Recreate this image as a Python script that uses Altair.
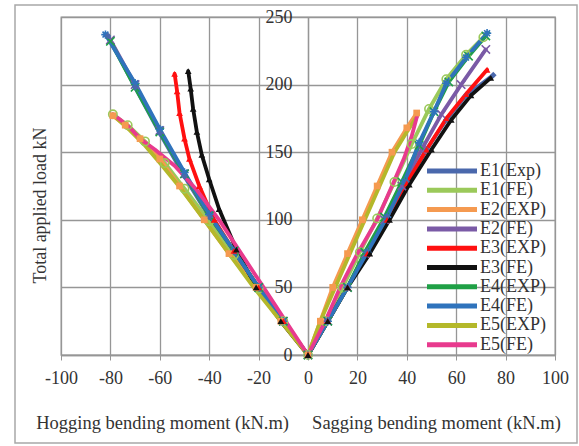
import altair as alt
import pandas as pd

series = ["E1(Exp)", "E1(FE)", "E2(EXP)", "E2(FE)", "E3(EXP)",
          "E3(FE)", "E4(EXP)", "E4(FE)", "E5(EXP)", "E5(FE)"]
colors = ["#4A68AC", "#9BC95A", "#F59A50", "#7A5AA6", "#FF1010",
          "#111111", "#1FA046", "#2F73BC", "#B4B82A", "#E83A8E"]

# hogging branch (moment, load) from origin outwards
hog_m = {
    "E1(Exp)": [0, -10, -20, -30, -40, -50, -60, -70, -81],
    "E1(FE)":  [0, -10, -20, -30, -40, -50, -58, -66, -73, -79],
    "E2(EXP)": [0, -11, -21, -32, -42, -52, -60, -68, -74, -79],
    "E2(FE)":  [0, -10, -20, -30, -40, -50, -60, -70, -80],
    "E3(EXP)": [0, -10, -20, -30, -38, -44, -48, -50, -52, -53, -54],
    "E3(FE)":  [0, -11, -21, -29, -36, -40, -43, -45, -46.5, -47.5, -48.5],
    "E4(EXP)": [0, -10, -20, -30, -40, -50, -60, -70, -80],
    "E4(FE)":  [0, -10, -20, -30, -40, -50, -60, -70, -82],
    "E5(EXP)": [0, -11, -22, -32, -42, -51, -59, -66, -72, -78],
    "E5(FE)":  [0, -9, -18, -27, -36, -45, -54, -62, -68, -72, -76, -79],
}
hog_p = {
    "E1(Exp)": [0, 25, 50, 76, 102, 132, 164, 198, 236],
    "E1(FE)":  [0, 25, 49, 74, 99, 123, 142, 158, 170, 178],
    "E2(EXP)": [0, 25, 50, 75, 100, 125, 145, 160, 170, 177],
    "E2(FE)":  [0, 25, 50, 77, 103, 134, 166, 200, 233],
    "E3(EXP)": [0, 25, 50, 77, 100, 125, 145, 160, 179, 195, 208],
    "E3(FE)":  [0, 25, 50, 78, 108, 130, 148, 165, 182, 197, 210],
    "E4(EXP)": [0, 25, 50, 77, 103, 134, 165, 198, 232],
    "E4(FE)":  [0, 25, 50, 77, 104, 135, 167, 201, 237],
    "E5(EXP)": [0, 25, 50, 75, 100, 122, 140, 155, 166, 176],
    "E5(FE)":  [0, 25, 50, 75, 100, 122, 140, 152, 160, 168, 174, 178],
}
# sagging branch (moment, load) from origin outwards
sag_m = {
    "E1(Exp)": [0, 8, 16, 24, 32, 40, 48, 56, 64, 75],
    "E1(FE)":  [0, 7, 14, 21, 28, 35, 42, 49, 56, 64, 71],
    "E2(EXP)": [0, 5, 10, 16, 22, 28, 34, 40, 44],
    "E2(FE)":  [0, 8, 16, 23, 31, 38, 46, 54, 62, 72],
    "E3(EXP)": [0, 8, 16, 24, 32, 40, 48, 56, 64, 72.5],
    "E3(FE)":  [0, 8, 16, 25, 33, 41, 50, 58, 66, 74],
    "E4(EXP)": [0, 8, 16, 23, 31, 38, 45, 51, 57, 65, 72],
    "E4(FE)":  [0, 8, 16, 24, 32, 39, 45, 51, 56, 64, 72.5],
    "E5(EXP)": [0, 5, 11, 17, 23, 29, 35, 40, 44],
    "E5(FE)":  [0, 7, 13, 20, 28, 34, 39, 42, 44.5],
}
sag_p = {
    "E1(Exp)": [0, 25, 50, 76, 102, 128, 152, 174, 192, 207],
    "E1(FE)":  [0, 25, 50, 76, 101, 128, 156, 182, 204, 222, 235],
    "E2(EXP)": [0, 25, 50, 75, 100, 125, 150, 168, 179],
    "E2(FE)":  [0, 25, 50, 75, 100, 125, 152, 178, 200, 226],
    "E3(EXP)": [0, 25, 50, 75, 100, 127, 152, 175, 193, 211],
    "E3(FE)":  [0, 25, 50, 75, 100, 126, 152, 174, 192, 205],
    "E4(EXP)": [0, 25, 50, 76, 102, 128, 155, 180, 202, 221, 236],
    "E4(FE)":  [0, 25, 50, 76, 102, 128, 157, 180, 201, 220, 238],
    "E5(EXP)": [0, 25, 50, 75, 100, 125, 150, 165, 176],
    "E5(FE)":  [0, 25, 50, 75, 100, 125, 146, 162, 179],
}

x_ticks = [-100, -80, -60, -40, -20, 0, 20, 40, 60, 80, 100]
y_ticks = [0, 50, 100, 150, 200, 250]

filled_shapes = {"E1(Exp)": "diamond", "E2(EXP)": "square",
                 "E3(EXP)": "triangle-up", "E3(FE)": "triangle-up"}
X_PATH = "M-1,-1L1,1M-1,1L1,-1"
STAR_PATH = "M0,-1L0,1M-1,0L1,0M-0.7,-0.7L0.7,0.7M-0.7,0.7L0.7,-0.7"
stroke_shapes = {"E1(FE)": "circle", "E2(FE)": X_PATH,
                 "E4(EXP)": X_PATH, "E4(FE)": STAR_PATH}

rows = []
for s in series:
    hm, hp = hog_m[s], hog_p[s]
    pts = list(zip(hm[::-1], hp[::-1])) + list(zip(sag_m[s][1:], sag_p[s][1:]))
    for i, (m, p) in enumerate(pts):
        rows.append({"series": s, "idx": i, "moment": m, "load": p})
df = pd.DataFrame(rows)

FONT = "Liberation Serif"
TXT = "#333333"
GRID = "#969696"
FS = 18

color_scale = alt.Scale(domain=series, range=colors)
NB = "\u00a0"

xenc = alt.X("moment:Q", scale=alt.Scale(domain=[-100, 100], nice=False),
             axis=alt.Axis(values=x_ticks, grid=True, gridColor=GRID, gridWidth=1.3,
                           domainColor=GRID, domainWidth=1.3, tickColor=GRID, tickSize=5,
                           labelFont=FONT, labelFontSize=FS, labelColor=TXT, labelPadding=9,
                           labelFlush=False, labelOverlap=False,
                           labelExpr="datum.value < 0 ? '-' + abs(datum.value) : '' + datum.value",
                           title="Hogging bending moment (kN.m)" + NB * 5 + "Sagging bending moment (kN.m)",
                           titleFont=FONT, titleFontSize=18.5, titleFontWeight="normal",
                           titleColor=TXT, titleX=237, titleY=67, titleBaseline="middle",
                           titleAlign="center", titleAnchor="middle"))
yenc = alt.Y("load:Q", scale=alt.Scale(domain=[0, 250], nice=False),
             axis=alt.Axis(values=y_ticks, grid=True, gridColor=GRID, gridWidth=1.3,
                           offset=-247, domainColor=GRID, domainWidth=1.3,
                           tickColor=GRID, tickSize=4, labelFlush=False,
                           labelFont=FONT, labelFontSize=FS, labelColor=TXT, labelPadding=12,
                           title="Total applied load kN", titleFont=FONT, titleFontSize=18,
                           titleFontWeight="normal", titleColor=TXT, titleAngle=270,
                           titleX=-268, titleY=188, titleBaseline="middle",
                           titleAlign="center"))

LEG_PATH = "M-5,0L5,0"

lines = alt.Chart(df).mark_line(strokeWidth=3.8, strokeCap="round", strokeJoin="round").encode(
    x=xenc, y=yenc,
    color=alt.Color("series:N", scale=color_scale, sort=series,
                    legend=alt.Legend(orient="none", legendX=382, legendY=145, title=None,
                                      symbolType=LEG_PATH, symbolSize=100,
                                      symbolStrokeWidth=5, rowPadding=-0.7,
                                      labelFont=FONT, labelFontSize=FS, labelColor=TXT,
                                      labelOffset=19, padding=0)),
    order="idx:Q",
)

pts_filled = alt.Chart(df).transform_filter(
    alt.FieldOneOfPredicate(field="series", oneOf=list(filled_shapes.keys()))
).mark_point(filled=True, size=45, opacity=1).encode(
    x="moment:Q", y="load:Q",
    color=alt.Color("series:N", scale=color_scale, legend=None),
    shape=alt.Shape("series:N", scale=alt.Scale(domain=list(filled_shapes.keys()),
                                                range=list(filled_shapes.values())), legend=None),
)

pts_stroke = alt.Chart(df).transform_filter(
    alt.FieldOneOfPredicate(field="series", oneOf=list(stroke_shapes.keys()))
).mark_point(filled=False, size=70, strokeWidth=1.6, opacity=1).encode(
    x="moment:Q", y="load:Q",
    color=alt.Color("series:N", scale=color_scale, legend=None),
    shape=alt.Shape("series:N", scale=alt.Scale(domain=list(stroke_shapes.keys()),
                                                range=list(stroke_shapes.values())), legend=None),
)

frame = alt.Chart(pd.DataFrame({"k": [0]})).mark_rect(fill=None, stroke="#a8a8a8", strokeWidth=1.5).encode(
    x=alt.value(-46), x2=alt.value(516), y=alt.value(-12), y2=alt.value(426)
)

chart = alt.layer(frame, lines, pts_stroke, pts_filled).resolve_scale(shape="independent").properties(
    width=494, height=338,
    autosize=alt.AutoSizeParams(type="none"),
    padding={"left": 61, "top": 17, "right": 24, "bottom": 91},
    background="white",
).configure_view(stroke=GRID, strokeWidth=1.3)

chart.save("out.html", embed_options={"renderer": "svg", "actions": False})
